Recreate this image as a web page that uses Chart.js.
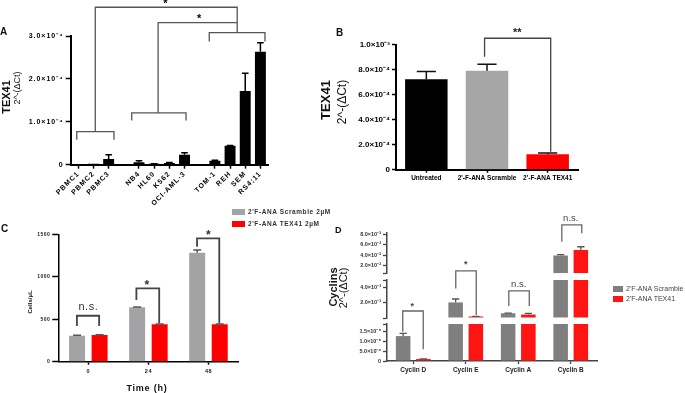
<!DOCTYPE html>
<html>
<head>
<meta charset="utf-8">
<script src="https://cdn.jsdelivr.net/npm/chart.js@4.4.1/dist/chart.umd.min.js"></script>
<style>
  html, body { margin: 0; padding: 0; background: #fff; }
  #fig { position: relative; width: 685px; height: 393px; overflow: hidden; font-family: "Liberation Sans", Arial, sans-serif; }
  #fig canvas { position: absolute; }
  .t { position: absolute; white-space: nowrap; line-height: 1; color: #111; }
  .rot { transform: translate(-50%, -50%) rotate(-90deg); }
  .ctr { transform: translate(-50%, -50%); }
  .sw { position: absolute; }
</style>
</head>
<body>
<div id="fig">
  <canvas id="chartA" width="300" height="215" style="left:0;top:0"></canvas>
  <canvas id="chartB" width="300" height="200" style="left:300px;top:0"></canvas>
  <canvas id="chartC" width="300" height="193" style="left:0;top:200px"></canvas>
  <canvas id="chartD" width="340" height="193" style="left:345px;top:200px"></canvas>

  <div class="t" style="left:0;top:27px;font-weight:bold;font-size:10px">A</div>
  <div class="t rot" style="left:6px;top:97px;font-weight:bold;font-size:11px">TEX41</div>
  <div class="t rot" style="left:17px;top:88px;font-size:9px">2^-(ΔCt)</div>

  <div class="t" style="left:336px;top:28px;font-weight:bold;font-size:10px">B</div>
  <div class="t rot" style="left:325px;top:100px;font-weight:bold;font-size:13px">TEX41</div>
  <div class="t rot" style="left:342px;top:102px;font-size:12px">2^-(ΔCt)</div>

  <div class="t" style="left:1px;top:224px;font-weight:bold;font-size:10px">C</div>
  <div class="t rot" style="left:30px;top:302px;font-weight:bold;font-size:6px">Cells/µL</div>
  <div class="t ctr" style="left:147px;top:388px;font-weight:bold;font-size:9px;letter-spacing:0.8px">Time (h)</div>
  <div class="sw" style="left:232px;top:209px;width:13px;height:6px;background:#a3a3a6"></div>
  <div class="sw" style="left:232px;top:221px;width:13px;height:6px;background:#ff0000"></div>
  <div class="t" style="left:248px;top:209px;font-weight:bold;font-size:6.5px;letter-spacing:0.6px;color:#333">2'F-ANA Scramble 2µM</div>
  <div class="t" style="left:248px;top:221px;font-weight:bold;font-size:6.5px;letter-spacing:0.6px;color:#333">2'F-ANA TEX41 2µM</div>

  <div class="t" style="left:335px;top:226px;font-weight:bold;font-size:9px">D</div>
  <div class="t rot" style="left:333px;top:287px;font-weight:bold;font-size:11px">Cyclins</div>
  <div class="t rot" style="left:343px;top:288px;font-size:11px">2^-(ΔCt)</div>
  <div class="sw" style="left:613px;top:286px;width:10px;height:6px;background:#7f7f7f"></div>
  <div class="sw" style="left:613px;top:296px;width:10px;height:6px;background:#ff1414"></div>
  <div class="t" style="left:626px;top:285px;font-size:7px;color:#444">2'F-ANA Scramble</div>
  <div class="t" style="left:626px;top:295px;font-size:7px;color:#444">2'F-ANA TEX41</div>
</div>

<script>
const FONT = '"Liberation Sans", Arial, sans-serif';

// ---------- Panel A data ----------
const aLabels = ['PBMC1', 'PBMC2', 'PBMC3', '', 'NB4', 'HL60', 'K562', 'OCI-AML-3', '', 'TOM-1', 'REH', 'SEM', 'RS4;11'];
const aValues = [0.003e-4, 0.02e-4, 0.13e-4, null, 0.06e-4, 0.02e-4, 0.04e-4, 0.23e-4, null, 0.09e-4, 0.44e-4, 1.72e-4, 2.63e-4];
const aErrors = [0, 0, 0.1e-4, null, 0.03e-4, 0.005e-4, 0.01e-4, 0.05e-4, null, 0.015e-4, 0.01e-4, 0.41e-4, 0.21e-4];
const aTickValues = [0, 1e-4, 2e-4, 3e-4];
const aTickLabels = ['0', '1.0×10⁻⁴', '2.0×10⁻⁴', '3.0×10⁻⁴'];
// bracket polylines: [category index, value]
const aBrackets = [
  [[-0.1, 0.58e-4], [-0.1, 0.77e-4], [2.35, 0.77e-4], [2.35, 0.58e-4]],
  [[3.52, 1.03e-4], [3.52, 1.21e-4], [7.1, 1.21e-4], [7.1, 1.03e-4]],
  [[8.63, 2.87e-4], [8.63, 3.08e-4], [12.3, 3.08e-4], [12.3, 2.87e-4]],
  [[1.12, 0.77e-4], [1.12, 3.67e-4], [10.47, 3.67e-4], [10.47, 3.08e-4]],
  [[5.26, 1.21e-4], [5.26, 3.31e-4], [10.47, 3.31e-4]]
];
const aMarks = [
  { text: '*', x: 5.78, v: 3.74e-4 },
  { text: '*', x: 8.0, v: 3.39e-4 }
];

// ---------- Panel B data ----------
const bLabels = ['Untreated', "2'-F-ANA Scramble", "2'-F-ANA TEX41"];
const bValues = [7.23e-4, 7.9e-4, 1.23e-4];
const bErrors = [0.61e-4, 0.53e-4, 0.1e-4];
const bTickValues = [0, 2e-4, 4e-4, 6e-4, 8e-4, 1e-3];
const bTickLabels = ['0', '2.0×10⁻⁴', '4.0×10⁻⁴', '6.0×10⁻⁴', '8.0×10⁻⁴', '1.0×10⁻³'];
const bBrackets = [
  [[0.96, 9.03e-4], [0.96, 10.5e-4], [2.05, 10.5e-4], [2.05, 1.44e-4]]
];
const bMarks = [{ text: '**', x: 1.5, v: 10.95e-4 }];

// ---------- Panel C data ----------
const cLabels = ['0', '24', '48'];
const cScramble = [306, 640, 1282];
const cScrambleErr = [5, 3, 32];
const cTex41 = [314, 440, 440];
const cTex41Err = [4, 3, 3];
const cTickValues = [0, 500, 1000, 1500];
const cTickLabels = ['0', '500', '1000', '1500'];
const cBrackets = [
  [[-0.19, 420], [-0.19, 541], [0.18, 541], [0.18, 420]],
  [[0.8, 726], [0.8, 864], [1.18, 864], [1.18, 452]],
  [[1.81, 1353], [1.81, 1452], [2.18, 1452], [2.18, 452]]
];
const cMarks = [
  { text: 'n.s.', x: 0.0, v: 640, bold: false },
  { text: '*', x: 0.98, v: 896, bold: true },
  { text: '*', x: 2.0, v: 1479, bold: true }
];

// ---------- Panel D data ----------
const dLabels = ['Cyclin D', 'Cyclin E', 'Cyclin A', 'Cyclin B'];
const dScramble = [1.28e-5, 2.05e-3, 0.62e-3, 3.9e-2];
const dScrambleErr = [0.14e-5, 0.45e-3, 0.03e-3, 0.2e-2];
const dTex41 = [1.0e-6, 0.2e-3, 0.45e-3, 5.0e-2];
const dTex41Err = [0.1e-6, 0.02e-3, 0.17e-3, 0.6e-2];
const dTopTicks = [0.5e-2, 2e-2, 4e-2, 6e-2, 8e-2];
const dTopLabels = ['', '2.0×10⁻²', '4.0×10⁻²', '6.0×10⁻²', '8.0×10⁻²'];
const dMidTicks = [0, 2e-3, 4e-3, 5e-3];
const dMidLabels = ['', '2.0×10⁻³', '4.0×10⁻³', ''];
const dBotTicks = [0, 5e-6, 1e-5, 1.5e-5, 1.9e-5];
const dBotLabels = ['0', '5.0×10⁻⁶', '1.0×10⁻⁵', '1.5×10⁻⁵', ''];
// bracket points: [category index, value, axis]
const dBrackets = [
  [[-0.2, 1.5e-5, 'yBot'], [-0.2, 0.92e-3, 'yMid'], [0.19, 0.92e-3, 'yMid'], [0.19, 0.6e-5, 'yBot']],
  [[0.81, 3.87e-3, 'yMid'], [0.81, 0.95e-2, 'yTop'], [1.2, 0.95e-2, 'yTop'], [1.2, 0.4e-3, 'yMid']],
  [[1.82, 1.57e-3, 'yMid'], [1.82, 3.56e-3, 'yMid'], [2.21, 3.56e-3, 'yMid'], [2.21, 1.57e-3, 'yMid']],
  [[2.83, 6.56e-2, 'yTop'], [2.83, 9.79e-2, 'yTop'], [3.21, 9.79e-2, 'yTop'], [3.21, 8.18e-2, 'yTop']]
];
const dMarks = [
  { text: '*', x: -0.02, v: 1.57e-3, axis: 'yMid', bold: true },
  { text: '*', x: 1.0, v: 2.15e-2, axis: 'yTop', bold: true },
  { text: 'n.s.', x: 2.01, v: 4.4e-3, axis: 'yMid', bold: false },
  { text: 'n.s.', x: 3.0, v: 11.1e-2, axis: 'yTop', bold: false }
];
const dSegments = [
  { axis: 'yBot', min: 0, max: 1.9e-5, floor: -1 },
  { axis: 'yMid', min: 0, max: 5e-3, floor: 1.9e-5 },
  { axis: 'yTop', min: 0.5e-2, max: 8.3e-2, floor: 5e-3 }
];

// =======================
// helpers
// =======================
function fixedTicks(values) {
  return s => { s.ticks = values.map(v => ({ value: v })); };
}
function font(size, weight) {
  return { family: FONT, size: size, weight: weight || 'normal' };
}
function polyline(chart, pts, color, width) {
  const ctx = chart.ctx;
  const xs = chart.scales.x;
  ctx.save();
  ctx.strokeStyle = color;
  ctx.lineWidth = width;
  ctx.beginPath();
  pts.forEach((p, i) => {
    const px = xs.getPixelForValue(p[0]);
    const py = chart.scales[p[2] || 'y'].getPixelForValue(p[1]);
    if (i === 0) ctx.moveTo(px, py); else ctx.lineTo(px, py);
  });
  ctx.stroke();
  ctx.restore();
}
function mark(chart, m, fontStr, color) {
  const ctx = chart.ctx;
  ctx.save();
  ctx.font = fontStr;
  ctx.fillStyle = color;
  ctx.textAlign = 'center';
  ctx.textBaseline = 'middle';
  ctx.fillText(m.text, chart.scales.x.getPixelForValue(m.x), chart.scales[m.axis || 'y'].getPixelForValue(m.v));
  ctx.restore();
}
function errorBars(chart, dsIndex, values, errors, axisFor, color, capRatio, width) {
  const ctx = chart.ctx;
  const bars = chart.getDatasetMeta(dsIndex).data;
  ctx.save();
  ctx.strokeStyle = color;
  ctx.lineWidth = width;
  values.forEach((v, i) => {
    if (v === null || !errors[i]) return;
    const bar = bars[i];
    const top = v + errors[i];
    const y0 = chart.scales[axisFor(v)].getPixelForValue(v);
    const y1 = chart.scales[axisFor(top)].getPixelForValue(top);
    const half = bar.width * capRatio / 2;
    ctx.beginPath();
    ctx.moveTo(bar.x, y0);
    ctx.lineTo(bar.x, y1);
    ctx.moveTo(bar.x - half, y1);
    ctx.lineTo(bar.x + half, y1);
    ctx.stroke();
  });
  ctx.restore();
}
function spacing(px) {
  return { id: 'spacing', beforeDraw(chart) { chart.ctx.letterSpacing = px; } };
}

// =======================
// Panel A
// =======================
new Chart(document.getElementById('chartA'), {
  type: 'bar',
  data: {
    labels: aLabels,
    datasets: [{ data: aValues, backgroundColor: '#000', categoryPercentage: 1, barPercentage: 0.72 }]
  },
  options: {
    responsive: false,
    animation: false,
    layout: { padding: { left: 0, right: 32, top: 36, bottom: 0 } },
    plugins: { legend: { display: false }, tooltip: { enabled: false } },
    scales: {
      x: {
        grid: { drawOnChartArea: false, offset: false, tickLength: 4, tickWidth: 1.5,
          tickColor: c => aLabels[c.index] ? '#000' : 'rgba(0,0,0,0)' },
        border: { color: '#000', width: 2 },
        ticks: { autoSkip: false, minRotation: 45, maxRotation: 45, padding: 1, color: '#000', font: font(7, 'bold') },
        afterFit: s => { s.height = 50.3; }
      },
      y: {
        min: 0, max: 3e-4,
        afterBuildTicks: fixedTicks(aTickValues),
        grid: { drawOnChartArea: false, tickLength: 5, tickWidth: 1.5, tickColor: '#000' },
        border: { color: '#000', width: 2 },
        ticks: { autoSkip: false, padding: 2, color: '#000', font: font(7, 'bold'), callback: (v, i) => aTickLabels[i] },
        afterFit: s => { s.width = 70.7; }
      }
    }
  },
  plugins: [spacing('1px'), {
    id: 'aOverlay',
    afterDatasetsDraw(chart) {
      errorBars(chart, 0, aValues, aErrors, () => 'y', '#000', 0.6, 1.5);
      aBrackets.forEach(p => polyline(chart, p, '#555', 1.3));
      aMarks.forEach(m => mark(chart, m, 'bold 11px ' + FONT, '#000'));
    }
  }]
});

// =======================
// Panel B
// =======================
new Chart(document.getElementById('chartB'), {
  type: 'bar',
  data: {
    labels: bLabels,
    datasets: [{ data: bValues, backgroundColor: ['#000', '#a6a6a6', '#ff0000'], categoryPercentage: 1, barPercentage: 0.7 }]
  },
  options: {
    responsive: false,
    animation: false,
    layout: { padding: { left: 0, right: 22, top: 44.5, bottom: 0 } },
    plugins: { legend: { display: false }, tooltip: { enabled: false } },
    scales: {
      x: {
        grid: { drawOnChartArea: false, offset: false, tickLength: 3, tickWidth: 1.5, tickColor: '#000' },
        border: { color: '#000', width: 2 },
        ticks: { autoSkip: false, minRotation: 0, maxRotation: 0, padding: 2, color: '#000', font: font(6.5, 'bold') },
        afterFit: s => { s.height = 30.3; }
      },
      y: {
        min: 0, max: 1e-3,
        afterBuildTicks: fixedTicks(bTickValues),
        grid: { drawOnChartArea: false, tickLength: 4, tickWidth: 1.5, tickColor: '#000' },
        border: { color: '#000', width: 2 },
        ticks: { autoSkip: false, padding: 2, color: '#000', font: font(8, 'bold'), callback: (v, i) => bTickLabels[i] },
        afterFit: s => { s.width = 96; }
      }
    }
  },
  plugins: [{
    id: 'bOverlay',
    afterDatasetsDraw(chart) {
      errorBars(chart, 0, bValues, bErrors, () => 'y', '#111', 0.45, 1.5);
      bBrackets.forEach(p => polyline(chart, p, '#444', 1.3));
      bMarks.forEach(m => mark(chart, m, 'bold 11px ' + FONT, '#222'));
    }
  }]
});

// =======================
// Panel C
// =======================
new Chart(document.getElementById('chartC'), {
  type: 'bar',
  data: {
    labels: cLabels,
    datasets: [
      { data: cScramble, backgroundColor: '#a3a3a6', categoryPercentage: 0.75, barPercentage: 0.71 },
      { data: cTex41, backgroundColor: '#ff0000', categoryPercentage: 0.75, barPercentage: 0.71 }
    ]
  },
  options: {
    responsive: false,
    animation: false,
    layout: { padding: { left: 0, right: 61.5, top: 34.3, bottom: 0 } },
    plugins: { legend: { display: false }, tooltip: { enabled: false } },
    scales: {
      x: {
        grid: { drawOnChartArea: false, offset: false, tickLength: 3, tickWidth: 1.5, tickColor: '#000' },
        border: { color: '#000', width: 1.5 },
        ticks: { autoSkip: false, minRotation: 0, maxRotation: 0, padding: 3, color: '#222', font: font(5.5, 'bold') },
        afterFit: s => { s.height = 31.3; }
      },
      y: {
        min: 0, max: 1500,
        afterBuildTicks: fixedTicks(cTickValues),
        grid: { drawOnChartArea: false, tickLength: 6, tickWidth: 1.5, tickColor: '#000' },
        border: { color: '#000', width: 1.5 },
        ticks: { autoSkip: false, padding: 2, color: '#222', font: font(5, 'bold'), callback: (v, i) => cTickLabels[i] },
        afterFit: s => { s.width = 58.3; }
      }
    }
  },
  plugins: [spacing('0.5px'), {
    id: 'cOverlay',
    afterDatasetsDraw(chart) {
      errorBars(chart, 0, cScramble, cScrambleErr, () => 'y', '#555', 0.5, 1.5);
      errorBars(chart, 1, cTex41, cTex41Err, () => 'y', '#555', 0.5, 1.5);
      cBrackets.forEach(p => polyline(chart, p, '#444', 1.8));
      cMarks.forEach(m => mark(chart, m, (m.bold ? 'bold 12px ' : '11px ') + FONT, '#333'));
    }
  }]
});

// =======================
// Panel D (broken y axis from stacked scales)
// =======================
function segmentData(values, seg) {
  return values.map(v => v > seg.floor ? [seg.min, Math.min(v, seg.max)] : null);
}
function dAxisFor(v) {
  if (v <= dSegments[0].max) return 'yBot';
  if (v <= dSegments[1].max) return 'yMid';
  return 'yTop';
}
const dDatasets = [];
dSegments.forEach(seg => {
  dDatasets.push({ label: "2'F-ANA Scramble", stack: 'scr', yAxisID: seg.axis, data: segmentData(dScramble, seg),
    backgroundColor: '#7f7f7f', categoryPercentage: 0.77, barPercentage: 0.72 });
  dDatasets.push({ label: "2'F-ANA TEX41", stack: 'tex', yAxisID: seg.axis, data: segmentData(dTex41, seg),
    backgroundColor: '#ff1414', categoryPercentage: 0.77, barPercentage: 0.72 });
});

function segAxis(seg, ticks, labels, weight, stackWeight) {
  return {
    type: 'linear', position: 'left', stack: 'd', stackWeight: stackWeight, weight: weight,
    stacked: false, min: seg.min, max: seg.max,
    afterBuildTicks: fixedTicks(ticks),
    grid: { drawOnChartArea: false, tickLength: 4, tickWidth: 1.3, tickColor: '#444' },
    border: { color: '#444', width: 1.5 },
    ticks: { autoSkip: false, padding: 2, color: '#333', font: font(5.5, 'bold'), callback: (v, i) => labels[i] },
    afterFit: s => { s.width = 42; }
  };
}
function gapAxis(weight, stackWeight) {
  return {
    type: 'linear', position: 'left', stack: 'd', stackWeight: stackWeight, weight: weight,
    grid: { display: false }, border: { display: false }, ticks: { display: false },
    afterFit: s => { s.width = 42; }
  };
}

new Chart(document.getElementById('chartD'), {
  type: 'bar',
  data: { labels: dLabels, datasets: dDatasets },
  options: {
    responsive: false,
    animation: false,
    layout: { padding: { left: 0, right: 88, top: 32.7, bottom: 0 } },
    plugins: { legend: { display: false }, tooltip: { enabled: false } },
    scales: {
      x: {
        grid: { drawOnChartArea: false, offset: false, tickLength: 3, tickWidth: 1.3, tickColor: '#444' },
        border: { color: '#444', width: 1.5 },
        ticks: { autoSkip: false, minRotation: 0, maxRotation: 0, padding: 2, color: '#222', font: font(6.5, 'bold') },
        afterFit: s => { s.height = 32; }
      },
      yTop: segAxis(dSegments[2], dTopTicks, dTopLabels, 5, 40.6),
      gap1: gapAxis(4, 6.7),
      yMid: segAxis(dSegments[1], dMidTicks, dMidLabels, 3, 38),
      gap2: gapAxis(2, 6),
      yBot: segAxis(dSegments[0], dBotTicks, dBotLabels, 1, 37)
    }
  },
  plugins: [{
    id: 'dOverlay',
    afterDatasetsDraw(chart) {
      errorBars(chart, 0, dScramble, dScrambleErr, dAxisFor, '#555', 0.5, 1.3);
      errorBars(chart, 1, dTex41, dTex41Err, dAxisFor, '#555', 0.5, 1.3);
      dBrackets.forEach(p => polyline(chart, p, '#666', 1.3));
      dMarks.forEach(m => mark(chart, m, (m.bold ? 'bold 9px ' : '9.5px ') + FONT, '#444'));
    }
  }]
});
</script>
</body>
</html>
